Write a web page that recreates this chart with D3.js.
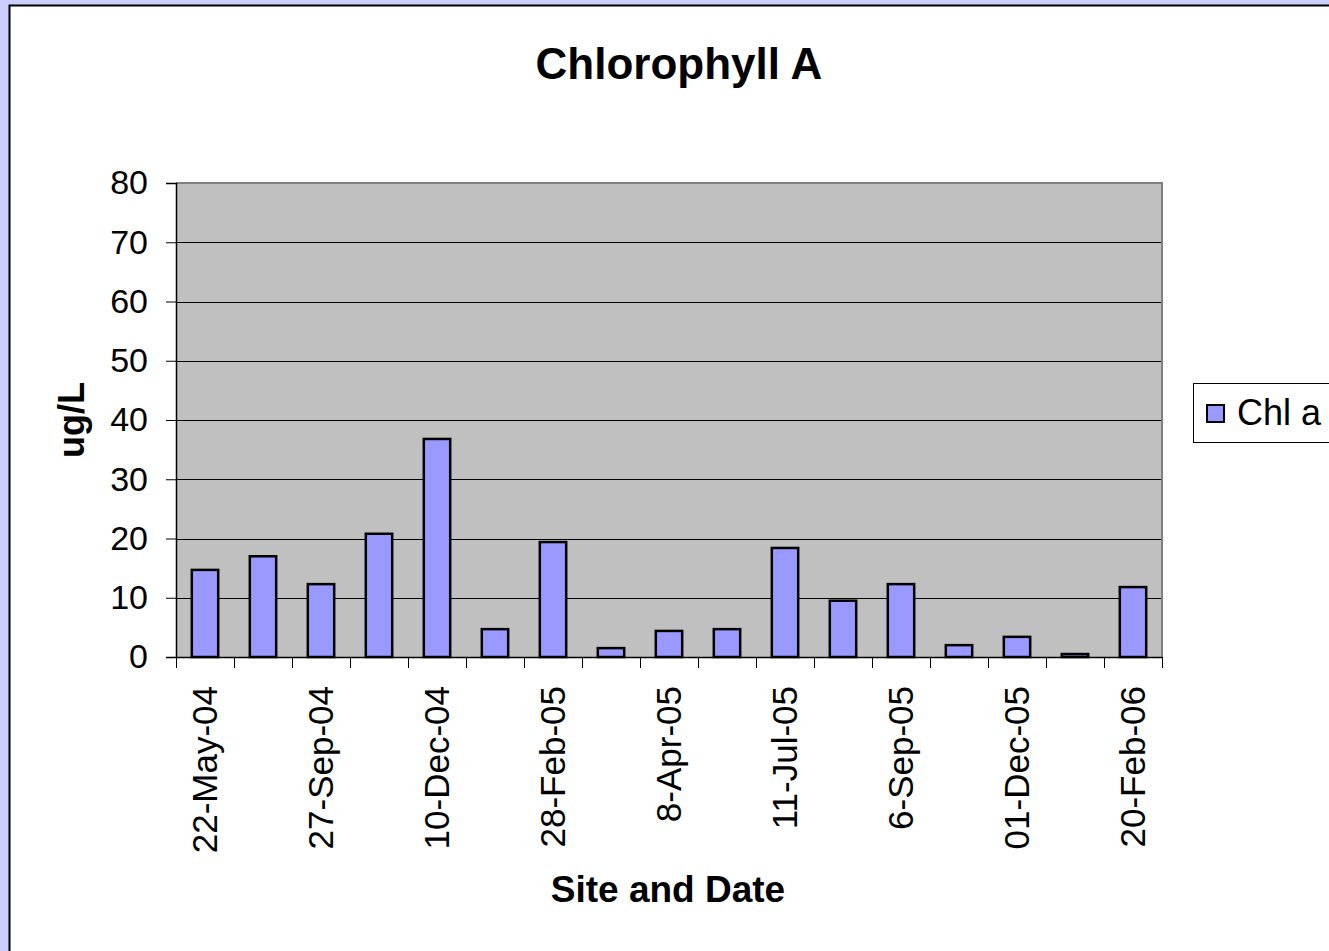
<!DOCTYPE html>
<html>
<head>
<meta charset="utf-8">
<script src="https://cdn.jsdelivr.net/npm/d3@7"></script>
<style>
  body { margin: 0; background: #ccccff; overflow: hidden; }
  text { font-family: "Liberation Sans", Arial, sans-serif; }
</style>
</head>
<body>
<div id="chart"></div>
<script>
const dateLabels = ["22-May-04", "", "27-Sep-04", "", "10-Dec-04", "", "28-Feb-05", "", "8-Apr-05",
	"", "11-Jul-05", "", "6-Sep-05", "", "01-Dec-05", "", "20-Feb-06"];
const chlA = [14.7, 17.0, 12.3, 20.8, 36.8, 4.7, 19.4, 1.5, 4.4, 4.7, 18.4, 9.5, 12.3, 2.0, 3.4, 0.5, 11.8];
const yTicks = [0, 10, 20, 30, 40, 50, 60, 70, 80];

const w = 1329, h = 951;
const plot = { l: 176, r: 1162, t: 183, b: 657 };

const svg = d3.select("#chart").append("svg").attr("width", w).attr("height", h);

// white chart area with dark border
svg.append("rect").attr("x", 9.5).attr("y", 5.5).attr("width", w).attr("height", h)
	.attr("fill", "#fff").attr("stroke", "#000").attr("stroke-width", 2);

const xScale = d3.scaleBand().domain(d3.range(chlA.length)).range([plot.l, plot.r])
	.paddingInner(0.545).paddingOuter(0.2725);
const yScale = d3.scaleLinear().domain([0, 80]).range([plot.b, plot.t]);

// plot background
svg.append("rect").attr("x", plot.l).attr("y", plot.t)
	.attr("width", plot.r - plot.l).attr("height", plot.b - plot.t)
	.attr("fill", "#c0c0c0");

// gridlines
svg.append("g").selectAll("line").data(yTicks.filter((d) => d > 0 && d < 80)).join("line")
	.attr("x1", plot.l).attr("x2", plot.r)
	.attr("y1", (d) => Math.round(yScale(d)) + 0.5).attr("y2", (d) => Math.round(yScale(d)) + 0.5)
	.attr("stroke", "#000").attr("stroke-width", 1);

// top and right border
svg.append("path")
	.attr("d", `M${plot.l},${plot.t} H${plot.r} V${plot.b}`)
	.attr("fill", "none").attr("stroke", "#808080").attr("stroke-width", 2);

// bars
svg.append("g").selectAll("rect").data(chlA).join("rect")
	.attr("x", (d, i) => xScale(i))
	.attr("y", (d) => yScale(d))
	.attr("width", xScale.bandwidth())
	.attr("height", (d) => yScale(0) - yScale(d))
	.attr("fill", "#9999ff").attr("stroke", "#000").attr("stroke-width", 2.5);

// y axis
const yAxisG = svg.append("g").attr("transform", `translate(${plot.l},0)`)
	.call(d3.axisLeft(yScale).tickValues(yTicks).tickSize(10).tickPadding(18));
yAxisG.select(".domain").attr("stroke", "#000").attr("stroke-width", 1.5);
yAxisG.selectAll(".tick text").attr("font-size", 34).attr("fill", "#000")
	.attr("font-family", "Liberation Sans, Arial, sans-serif");

// x axis
const xAxisG = svg.append("g").attr("transform", `translate(0,${plot.b})`);
xAxisG.append("line").attr("x1", plot.l).attr("x2", plot.r).attr("y1", 0.5).attr("y2", 0.5)
	.attr("stroke", "#000").attr("stroke-width", 1.5);
const bounds = d3.range(chlA.length + 1).map((i) => plot.l + i * xScale.step());
xAxisG.selectAll(".tk").data(bounds).join("line").attr("class", "tk")
	.attr("x1", (d) => Math.round(d) + 0.5).attr("x2", (d) => Math.round(d) + 0.5)
	.attr("y1", 0).attr("y2", 11).attr("stroke", "#000");
xAxisG.selectAll("text").data(dateLabels).join("text")
	.attr("transform", (d, i) => `translate(${xScale(i) + xScale.bandwidth() / 2 + 12},29) rotate(-90)`)
	.attr("text-anchor", "end").attr("font-size", 35).attr("fill", "#000")
	.text((d) => d);

// titles
svg.append("text").attr("x", 679).attr("y", 79).attr("text-anchor", "middle")
	.attr("font-size", 44).attr("font-weight", "bold").text("Chlorophyll A");
svg.append("text").attr("x", 668).attr("y", 902).attr("text-anchor", "middle")
	.attr("font-size", 37).attr("font-weight", "bold").text("Site and Date");
svg.append("text").attr("transform", "translate(84,420) rotate(-90)").attr("text-anchor", "middle")
	.attr("font-size", 36).attr("font-weight", "bold").text("ug/L");

// legend
const legend = svg.append("g");
legend.append("rect").attr("x", 1193.5).attr("y", 383.5).attr("width", 150).attr("height", 59)
	.attr("fill", "#fff").attr("stroke", "#000").attr("stroke-width", 1);
legend.append("rect").attr("x", 1207).attr("y", 405).attr("width", 17).attr("height", 17)
	.attr("fill", "#9999ff").attr("stroke", "#000").attr("stroke-width", 2);
legend.append("text").attr("x", 1237).attr("y", 425).attr("font-size", 36).text("Chl a");
</script>
</body>
</html>
